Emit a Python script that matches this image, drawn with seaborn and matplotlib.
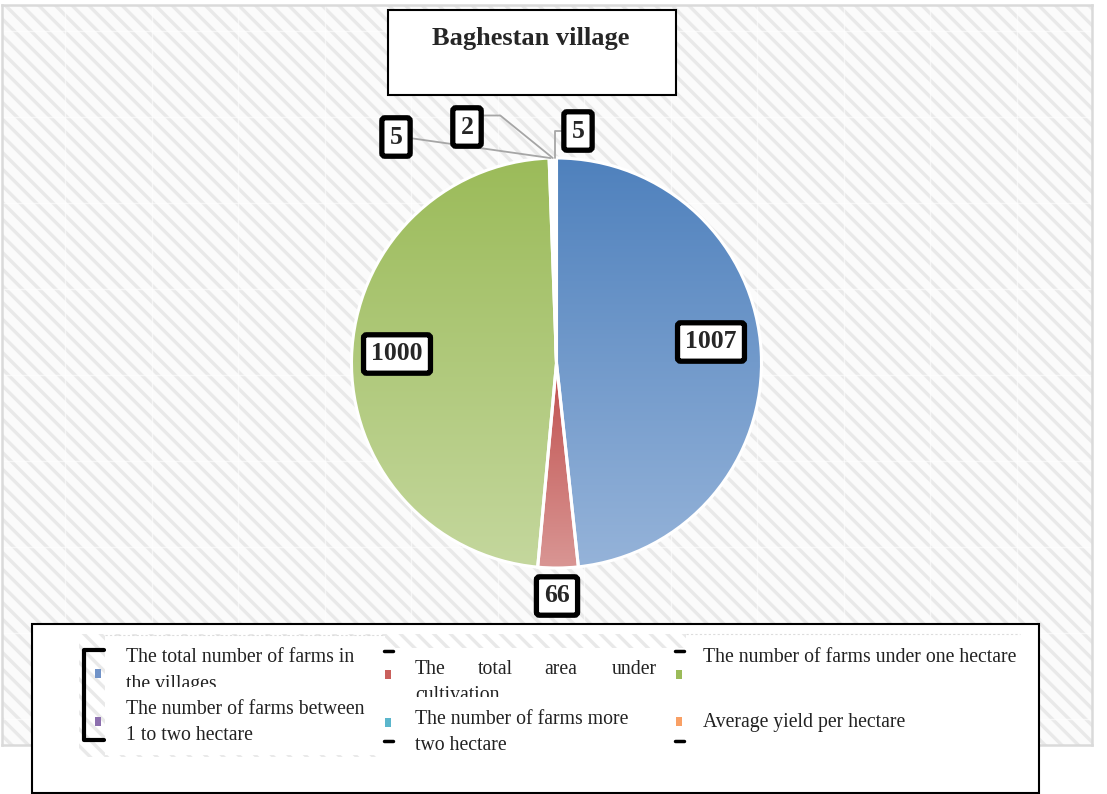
# -*- coding: utf-8 -*-
# Baghestan village - pie chart of farm statistics

import numpy as np
import seaborn as sns
import matplotlib.pyplot as plt
from matplotlib.patches import Rectangle
from matplotlib.colors import LinearSegmentedColormap


# data
categories = ['The total number of farms in the villages',
              'The total area under cultivation',
              'The number of farms under one hectare',
              'The number of farms between 1 to two hectare',
              'The number of farms more two hectare',
              'Average yield per hectare']
values = [1007, 66, 1000, 5, 2, 5]
title = 'Baghestan village'

# legend text as it is broken over lines in the picture
legend_lines = [['The total number of farms in', 'the villages'],
                ['The total area under', 'cultivation'],
                ['The number of farms under one hectare'],
                ['The number of farms between', '1 to two hectare'],
                ['The number of farms more', 'two hectare'],
                ['Average yield per hectare']]

# styles
legend_colors = ['#7193c8', '#c9605c', '#9bbb59', '#8c6fae', '#5bb6cc', '#f9a065']
gradients = [('#4f81bd', '#95b3d9'), ('#c0504d', '#d99694'), ('#9bbb59', '#c4d79d'),
             None, None, None]

sns.set_theme(style='white')
plt.rcParams['font.family'] = ['Liberation Serif', 'DejaVu Serif']
plt.rcParams['hatch.linewidth'] = 2.4

W, H = 1107, 794
fig = plt.figure(figsize=(W / 100, H / 100), dpi=100)
fig.patch.set_facecolor('white')


def fx(x):
    return x / W


def fy(y):
    return 1 - y / H


def frect(x0, y0, x1, y1, **kw):
    r = Rectangle((fx(x0), fy(y1)), fx(x1) - fx(x0), fy(y0) - fy(y1),
                  transform=fig.transFigure, **kw)
    fig.add_artist(r)
    return r


# hatched chart area
bg = fig.add_axes([fx(2), fy(745), fx(1092) - fx(2), fy(5) - fy(745)])
bg.set_xlim(2, 1092)
bg.set_ylim(745, 5)
bg.add_patch(Rectangle((0, 0), 1, 1, transform=bg.transAxes, facecolor='#fbfbfb',
                       edgecolor='#e9e9e9', hatch='\\\\', lw=0, zorder=0))
bg.set_xticks(np.arange(65, 1092, 86.5))
bg.set_yticks(np.arange(31, 745, 86))
bg.grid(True, color='white', lw=1.0, alpha=0.6)
bg.tick_params(length=0, labelbottom=False, labelleft=False)
for s in bg.spines.values():
    s.set_color('#dadada')
    s.set_linewidth(1.8)

# title box
frect(388, 10, 676, 95, facecolor='white', edgecolor='black', lw=1.5, zorder=3)
fig.text(fx(531), fy(38), title, ha='center', va='center', fontsize=19,
         fontweight='bold', zorder=4)

# pie
R = 205
cx, cy = 556.5, 363
ax = fig.add_axes([fx(cx - 1.1 * R), fy(cy + 1.1 * R), 2.2 * R / W, 2.2 * R / H])
ax.set_xlim(-1.1, 1.1)
ax.set_ylim(-1.1, 1.1)
ax.set_aspect('equal')
ax.axis('off')

wedges, _ = ax.pie(values, startangle=90, counterclock=False, radius=1,
                   colors=['white'] * len(values),
                   wedgeprops=dict(edgecolor='white', linewidth=2.2))

for w, g in zip(wedges, gradients):
    if g is None:
        continue
    ext = w.get_path().get_extents()
    cmap = LinearSegmentedColormap.from_list('g', [g[0], g[1]])
    im = ax.imshow(np.linspace(0, 1, 256).reshape(-1, 1), cmap=cmap, aspect='auto',
                   origin='upper', extent=[ext.x0, ext.x1, ext.y0, ext.y1], zorder=0.5)
    im.set_clip_path(w)
    w.set_facecolor('none')
ax.set_xlim(-1.1, 1.1)
ax.set_ylim(-1.1, 1.1)

# data labels
label_pos = [(711, 342), (557, 596), (397, 354), (396, 137), (467, 127), (578, 131)]
label_conn = [None, None, None, ('arc3', (1, 0.5)),
              ('angle,angleA=0,angleB=141,rad=0', (1, 1)),
              ('angle,angleA=180,angleB=90,rad=0', (0, 0.5))]
for w, v, p, c in zip(wedges, values, label_pos, label_conn):
    mid = np.deg2rad((w.theta1 + w.theta2) / 2)
    kw = dict(ha='center', va='center', fontsize=18.5, fontweight='bold',
              textcoords='figure pixels',
              bbox=dict(boxstyle='round,pad=0.3,rounding_size=0.12', fc='white',
                        ec='black', lw=3.8))
    if c is not None:
        kw['arrowprops'] = dict(arrowstyle='-', color='#a6a6a6', lw=1.3,
                                connectionstyle=c[0], relpos=c[1],
                                shrinkA=0, shrinkB=0)
    ax.annotate(str(v), xy=(np.cos(mid), np.sin(mid)), xytext=(p[0], H - p[1]),
                zorder=5, **kw)

# legend
frect(32, 624, 1039, 792.5, facecolor='white', edgecolor='black', lw=1.5, zorder=1)
frect(79, 634, 686, 757, facecolor='white', edgecolor='#e9e9e9', hatch='\\\\',
      lw=0, zorder=1.1)
frect(105, 636, 385, 755, facecolor='white', edgecolor='none', zorder=1.2)
frect(385, 648, 686, 757, facecolor='white', edgecolor='none', zorder=1.2)
fig.add_artist(plt.Line2D([fx(105), fx(385)], [fy(635), fy(635)], color='#dddddd',
                          lw=0.8, ls=(0, (2, 2)), transform=fig.transFigure, zorder=1.3))
fig.add_artist(plt.Line2D([fx(686), fx(1020)], [fy(634), fy(634)], color='#dddddd',
                          lw=0.8, ls=(0, (2, 2)), transform=fig.transFigure, zorder=1.3))

# bracket and dashes
fig.add_artist(plt.Line2D([fx(104), fx(84), fx(84), fx(104)],
                          [fy(650), fy(650), fy(740), fy(740)], color='black',
                          lw=3, transform=fig.transFigure, zorder=1.4))
for x0 in (384, 675):
    for yy in (651, 741):
        fig.add_artist(plt.Line2D([fx(x0), fx(x0 + 9)], [fy(yy), fy(yy)], color='black',
                                  lw=2.5, transform=fig.transFigure, zorder=1.4))

marker_pos = [(95, 669), (385, 670), (676, 670), (95, 717), (385, 718), (676, 717)]
text_x = [126, 415, 703, 126, 415, 703]
text_y = [658, 669, 658, 710, 720, 722]
for i, col in enumerate(legend_colors):
    mx, my = marker_pos[i]
    frect(mx, my, mx + 6, my + 9, facecolor=col, edgecolor='none', zorder=1.5)
    for j, line in enumerate(legend_lines[i]):
        ty = text_y[i] + 26 * j
        if i == 1 and j == 0:
            # justified line
            for wx, word in zip([415, 478, 544, 612], line.split()):
                fig.text(fx(wx), fy(ty), word, ha='left', va='center',
                         fontsize=14.2, color='#222222', zorder=2)
        else:
            fig.text(fx(text_x[i]), fy(ty), line, ha='left', va='center',
                     fontsize=14.2, color='#222222', zorder=2)

# the second lines of the first row are cut off in the picture
frect(110, 687, 380, 699, facecolor='white', edgecolor='none', zorder=2.5)
frect(400, 697, 670, 709, facecolor='white', edgecolor='none', zorder=2.5)

fig.savefig('out.png', dpi=100)
